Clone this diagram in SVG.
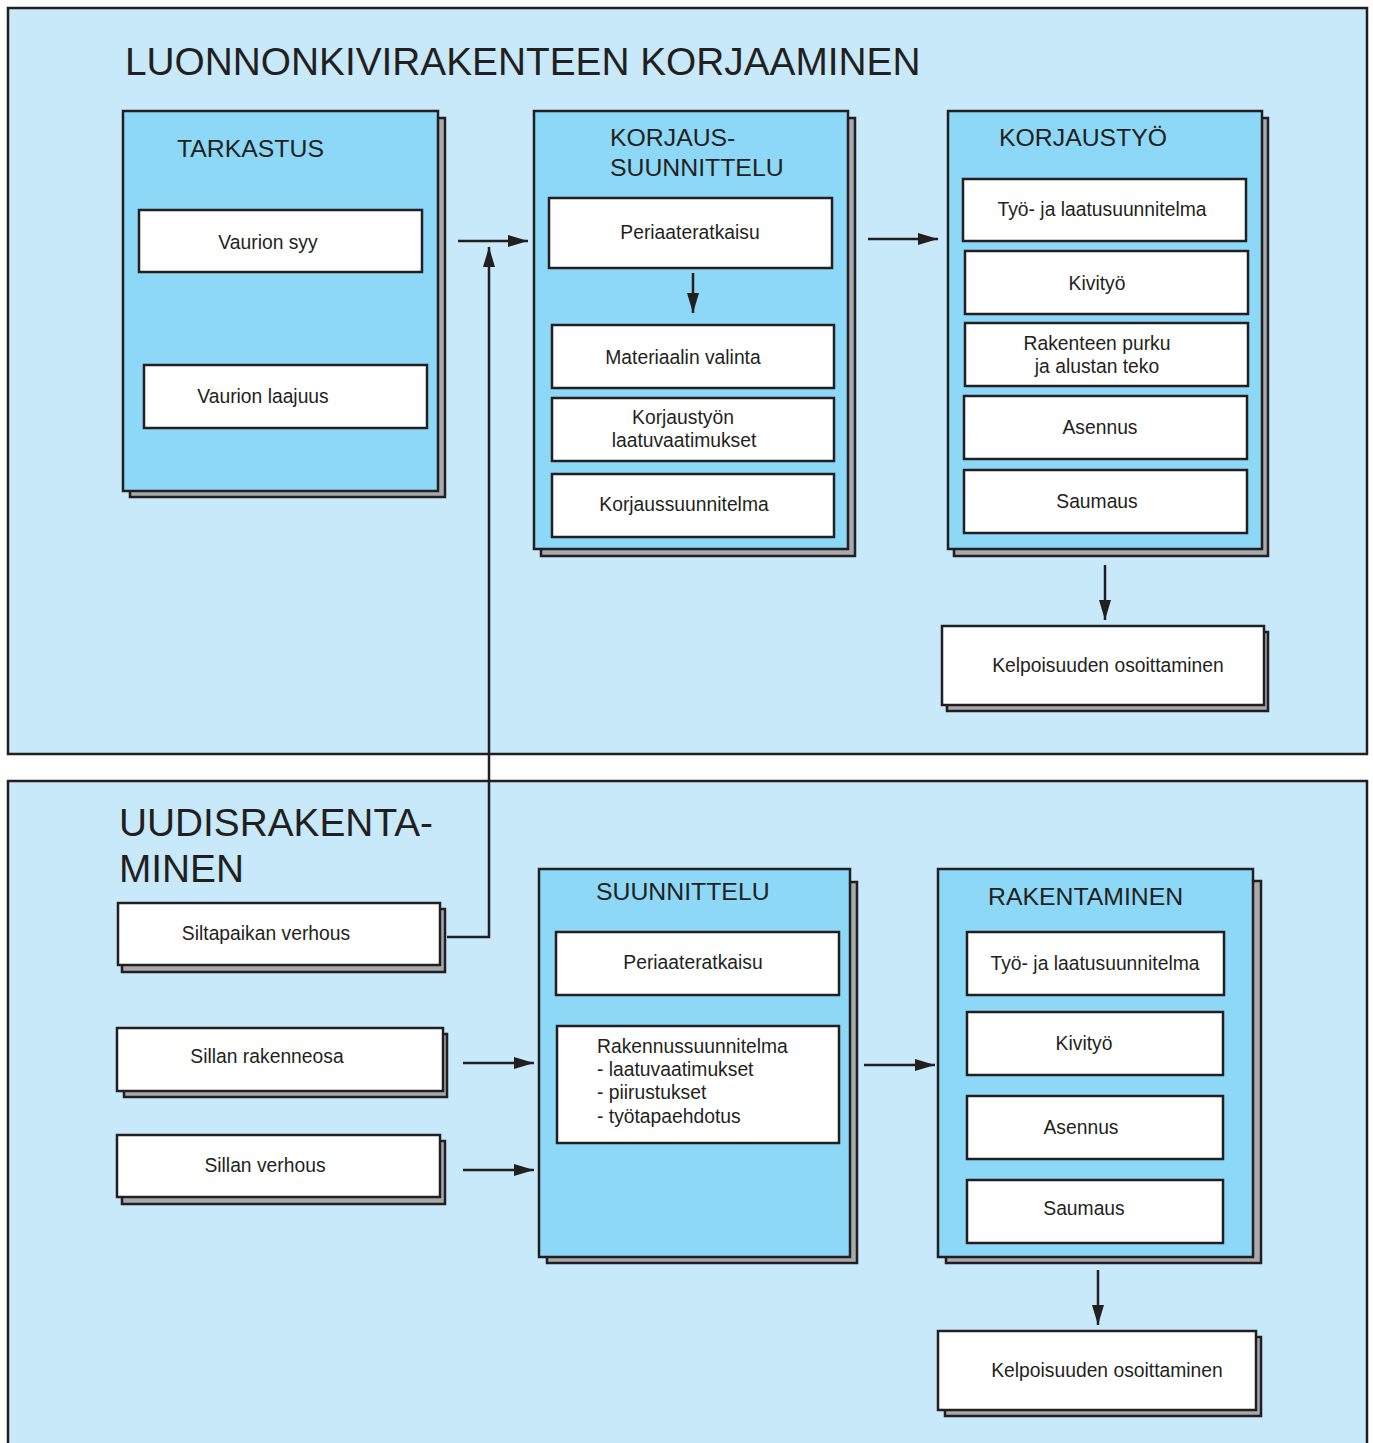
<svg xmlns="http://www.w3.org/2000/svg" width="1373" height="1443" viewBox="0 0 1373 1443">
<style>
.panel{fill:#c7e9f9;stroke:#231f20;stroke-width:2.5}
.shadow{fill:#a7a9ac;stroke:#231f20;stroke-width:2.5}
.blue{fill:#8dd8f6;stroke:#231f20;stroke-width:2.5}
.white{fill:#ffffff;stroke:#231f20;stroke-width:2.5}
.t{font-family:"Liberation Sans",Arial,sans-serif;fill:#231f20}
.big{font-size:38.8px}
.head{font-size:24.8px}
.body{font-size:19.3px;text-anchor:middle}
.left{font-size:19.3px}
.conn{fill:none;stroke:#231f20;stroke-width:2.5}
</style>
<defs>
<marker id="ah" markerUnits="userSpaceOnUse" markerWidth="22" markerHeight="14" refX="20" refY="6" orient="auto">
<path d="M0,0 L20,6 L0,12 Z" fill="#231f20"/>
</marker>
</defs>

<g id="panel-top">
<rect class="panel" x="8" y="8" width="1359" height="746"/>
<text class="t big" x="125" y="75">LUONNONKIVIRAKENTEEN KORJAAMINEN</text>
</g>
<g id="panel-bottom">
<rect class="panel" x="8" y="781" width="1359" height="680"/>
<text class="t big" x="119" y="836">UUDISRAKENTA-</text>
<text class="t big" x="119" y="882">MINEN</text>
</g>

<g id="tarkastus">
<rect class="shadow" x="130" y="118" width="315" height="379"/>
<rect class="blue" x="123" y="111" width="315" height="380"/>
<text class="t head" x="177" y="157">TARKASTUS</text>
<g id="vaurion-syy"><rect class="white" x="139" y="210" width="283" height="62"/><text class="t body" x="268" y="249">Vaurion syy</text></g>
<g id="vaurion-laajuus"><rect class="white" x="144" y="365" width="283" height="63"/><text class="t body" x="263" y="403">Vaurion laajuus</text></g>
</g>

<g id="korjaussuunnittelu">
<rect class="shadow" x="541" y="118" width="314" height="438"/>
<rect class="blue" x="534" y="111" width="314" height="438"/>
<text class="t head" x="610" y="146">KORJAUS-</text>
<text class="t head" x="610" y="176">SUUNNITTELU</text>
<g id="ks-periaate"><rect class="white" x="549" y="198" width="283" height="70"/><text class="t body" x="690" y="239">Periaateratkaisu</text></g>
<g id="ks-materiaali"><rect class="white" x="552" y="325" width="282" height="63"/><text class="t body" x="683" y="364">Materiaalin valinta</text></g>
<g id="ks-laatu"><rect class="white" x="552" y="398" width="282" height="63"/><text class="t body" x="683" y="424">Korjaustyön</text><text class="t body" x="684" y="447">laatuvaatimukset</text></g>
<g id="ks-suunnitelma"><rect class="white" x="552" y="474" width="282" height="63"/><text class="t body" x="684" y="511">Korjaussuunnitelma</text></g>
</g>

<g id="korjaustyo">
<rect class="shadow" x="954" y="118" width="314" height="438"/>
<rect class="blue" x="948" y="111" width="314" height="438"/>
<text class="t head" x="999" y="146">KORJAUSTYÖ</text>
<g id="kt-tyo"><rect class="white" x="963" y="179" width="283" height="62"/><text class="t body" x="1102" y="216">Työ- ja laatusuunnitelma</text></g>
<g id="kt-kivityo"><rect class="white" x="965" y="251" width="283" height="63"/><text class="t body" x="1097" y="290">Kivityö</text></g>
<g id="kt-purku"><rect class="white" x="965" y="323" width="283" height="63"/><text class="t body" x="1097" y="350">Rakenteen purku</text><text class="t body" x="1097" y="373">ja alustan teko</text></g>
<g id="kt-asennus"><rect class="white" x="964" y="396" width="283" height="63"/><text class="t body" x="1100" y="434">Asennus</text></g>
<g id="kt-saumaus"><rect class="white" x="964" y="470" width="283" height="63"/><text class="t body" x="1097" y="508">Saumaus</text></g>
</g>

<g id="kelpoisuus-top">
<rect class="shadow" x="947" y="632" width="321" height="79"/>
<rect class="white" x="942" y="626" width="322" height="79"/>
<text class="t body" x="1108" y="672">Kelpoisuuden osoittaminen</text>
</g>

<g id="siltapaikan-verhous">
<rect class="shadow" x="122" y="909" width="323" height="63"/>
<rect class="white" x="118" y="903" width="322" height="62"/>
<text class="t body" x="266" y="940">Siltapaikan verhous</text>
</g>
<g id="sillan-rakenneosa">
<rect class="shadow" x="124" y="1034" width="323" height="63"/>
<rect class="white" x="117" y="1028" width="326" height="63"/>
<text class="t body" x="267" y="1063">Sillan rakenneosa</text>
</g>
<g id="sillan-verhous">
<rect class="shadow" x="122" y="1141" width="323" height="63"/>
<rect class="white" x="117" y="1135" width="323" height="62"/>
<text class="t body" x="265" y="1172">Sillan verhous</text>
</g>

<g id="suunnittelu">
<rect class="shadow" x="547" y="882" width="310" height="381"/>
<rect class="blue" x="539" y="869" width="311" height="388"/>
<text class="t head" x="596" y="900">SUUNNITTELU</text>
<g id="su-periaate"><rect class="white" x="556" y="932" width="283" height="63"/><text class="t body" x="693" y="969">Periaateratkaisu</text></g>
<g id="su-rakennus"><rect class="white" x="557" y="1026" width="282" height="117"/>
<text class="t left" x="597" y="1053">Rakennussuunnitelma</text>
<text class="t left" x="597" y="1076">- laatuvaatimukset</text>
<text class="t left" x="597" y="1099">- piirustukset</text>
<text class="t left" x="597" y="1123">- työtapaehdotus</text></g>
</g>

<g id="rakentaminen">
<rect class="shadow" x="946" y="881" width="315" height="382"/>
<rect class="blue" x="938" y="869" width="315" height="388"/>
<text class="t head" x="988" y="905">RAKENTAMINEN</text>
<g id="ra-tyo"><rect class="white" x="967" y="932" width="257" height="63"/><text class="t body" x="1095" y="970">Työ- ja laatusuunnitelma</text></g>
<g id="ra-kivityo"><rect class="white" x="967" y="1012" width="256" height="63"/><text class="t body" x="1084" y="1050">Kivityö</text></g>
<g id="ra-asennus"><rect class="white" x="967" y="1096" width="256" height="63"/><text class="t body" x="1081" y="1134">Asennus</text></g>
<g id="ra-saumaus"><rect class="white" x="967" y="1180" width="256" height="63"/><text class="t body" x="1084" y="1215">Saumaus</text></g>
</g>

<g id="kelpoisuus-bottom">
<rect class="shadow" x="945" y="1337" width="316" height="79"/>
<rect class="white" x="938" y="1331" width="318" height="79"/>
<text class="t body" x="1107" y="1377">Kelpoisuuden osoittaminen</text>
</g>

<g id="connectors">
<line class="conn" x1="458" y1="241" x2="528" y2="241" marker-end="url(#ah)"/>
<path class="conn" d="M447,937 H489 V247" marker-end="url(#ah)"/>
<line class="conn" x1="693" y1="273" x2="693" y2="313" marker-end="url(#ah)"/>
<line class="conn" x1="868" y1="239" x2="938" y2="239" marker-end="url(#ah)"/>
<line class="conn" x1="1105" y1="565" x2="1105" y2="620" marker-end="url(#ah)"/>
<line class="conn" x1="463" y1="1063" x2="534" y2="1063" marker-end="url(#ah)"/>
<line class="conn" x1="463" y1="1170" x2="534" y2="1170" marker-end="url(#ah)"/>
<line class="conn" x1="864" y1="1065" x2="935" y2="1065" marker-end="url(#ah)"/>
<line class="conn" x1="1098" y1="1270" x2="1098" y2="1325" marker-end="url(#ah)"/>
</g>
</svg>
